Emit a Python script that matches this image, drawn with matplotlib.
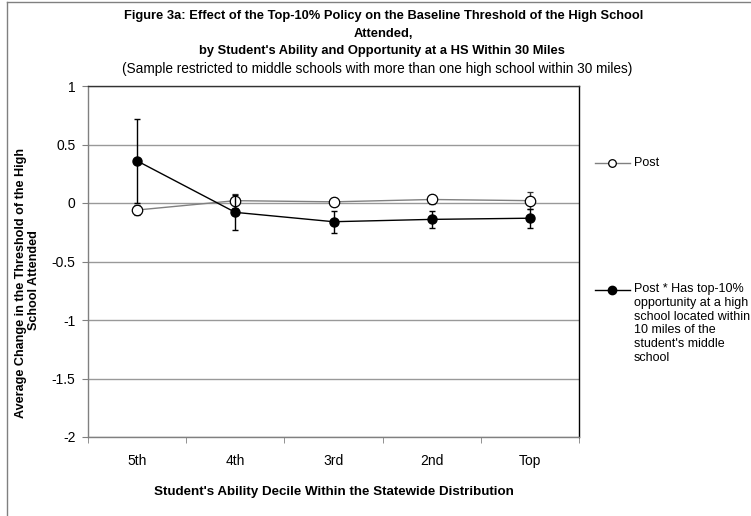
import matplotlib.pyplot as plt
from matplotlib.lines import Line2D

plt.rcParams['font.family'] = ['Liberation Sans', 'DejaVu Sans']

# Data
deciles = ['5th', '4th', '3rd', '2nd', 'Top']
post = [-0.06, 0.02, 0.01, 0.03, 0.02]
post_err = [0.045, 0.06, 0.035, 0.035, 0.07]
post_opp = [0.36, -0.08, -0.16, -0.14, -0.13]
post_opp_err = [0.36, 0.15, 0.095, 0.075, 0.08]

fig = plt.figure(figsize=(7.51, 5.16), dpi=100)
ax = fig.add_axes([88 / 751, 1 - 437 / 516, (579 - 88) / 751, (437 - 86) / 516])

x = list(range(len(deciles)))

ax.errorbar(x, post, yerr=post_err, color='#808080', ecolor='#333333', elinewidth=1,
            capsize=2.5, linewidth=1, marker='o', markersize=7.5, markerfacecolor='white',
            markeredgecolor='black', markeredgewidth=0.9, zorder=3)
ax.errorbar(x, post_opp, yerr=post_opp_err, color='black', ecolor='black', elinewidth=1,
            capsize=2.5, linewidth=1, marker='o', markersize=6.5, markerfacecolor='black',
            markeredgecolor='black', zorder=4)

ax.set_xlim(-0.5, len(deciles) - 0.5)
ax.set_ylim(-2, 1)
ax.set_yticks([1, 0.5, 0, -0.5, -1, -1.5, -2])
ax.set_yticklabels(['1', '0.5', '0', '-0.5', '-1', '-1.5', '-2'], fontsize=10)
ax.yaxis.grid(True, color='#999999', linewidth=1)
ax.set_axisbelow(True)

ax.set_xticks(x)
ax.set_xticklabels(deciles, fontsize=10)
ax.tick_params(axis='x', length=0, pad=12)
ax.set_xticks([i - 0.5 for i in range(len(deciles) + 1)], minor=True)
ax.tick_params(axis='x', which='minor', length=4, color='#808080', direction='out')
ax.tick_params(axis='y', length=4, color='#808080', direction='out', pad=5)

ax.spines['left'].set_color('#808080')
ax.spines['bottom'].set_color('#808080')
ax.spines['top'].set_color('#333333')
ax.spines['right'].set_color('black')
for s in ax.spines.values():
    s.set_linewidth(1)

ax.set_xlabel("Student's Ability Decile Within the Statewide Distribution",
              fontsize=9.6, fontweight='bold', labelpad=13)

# y label, two lines placed as in the reference
fig.text(21 / 751, 1 - 283 / 516, 'Average Change in the Threshold of the High',
         rotation=90, fontsize=9.1, fontweight='bold', ha='center', va='center')
fig.text(34 / 751, 1 - 280 / 516, 'School Attended',
         rotation=90, fontsize=9.1, fontweight='bold', ha='center', va='center')

# Titles
fig.text(0.511, 1 - 16 / 516,
         'Figure 3a: Effect of the Top-10% Policy on the Baseline Threshold of the High School',
         fontsize=9.3, fontweight='bold', ha='center', va='center')
fig.text(0.511, 1 - 34 / 516, 'Attended,', fontsize=9.3, fontweight='bold', ha='center', va='center')
fig.text(0.508, 1 - 51 / 516, "by Student's Ability and Opportunity at a HS Within 30 Miles",
         fontsize=9.3, fontweight='bold', ha='center', va='center')
fig.text(0.502, 1 - 69 / 516,
         '(Sample restricted to middle schools with more than one high school within 30 miles)',
         fontsize=9.8, ha='center', va='center')

# Legend drawn at the right
fig.add_artist(Line2D([595 / 751, 630 / 751], [1 - 163 / 516] * 2, color='#808080', linewidth=1))
fig.add_artist(Line2D([612 / 751], [1 - 163 / 516], marker='o', markersize=5.5,
                      markerfacecolor='white', markeredgecolor='black', markeredgewidth=0.9))
fig.text(634 / 751, 1 - 163 / 516, 'Post', fontsize=9, va='center')

fig.add_artist(Line2D([595 / 751, 630 / 751], [1 - 290 / 516] * 2, color='black', linewidth=1))
fig.add_artist(Line2D([612 / 751], [1 - 290 / 516], marker='o', markersize=6,
                      markerfacecolor='black', markeredgecolor='black'))
fig.text(634 / 751, 1 - 283 / 516,
         "Post * Has top-10%\nopportunity at a high\nschool located within\n10 miles of the\nstudent's middle\nschool",
         fontsize=9, va='top', linespacing=1.2)

# Chart border (partially visible)
fig.add_artist(Line2D([7 / 751, 7 / 751], [0, 1 - 2 / 516], color='#808080', linewidth=1))
fig.add_artist(Line2D([7 / 751, 1], [1 - 2 / 516] * 2, color='#808080', linewidth=1))

fig.savefig('out.png', dpi=100)
